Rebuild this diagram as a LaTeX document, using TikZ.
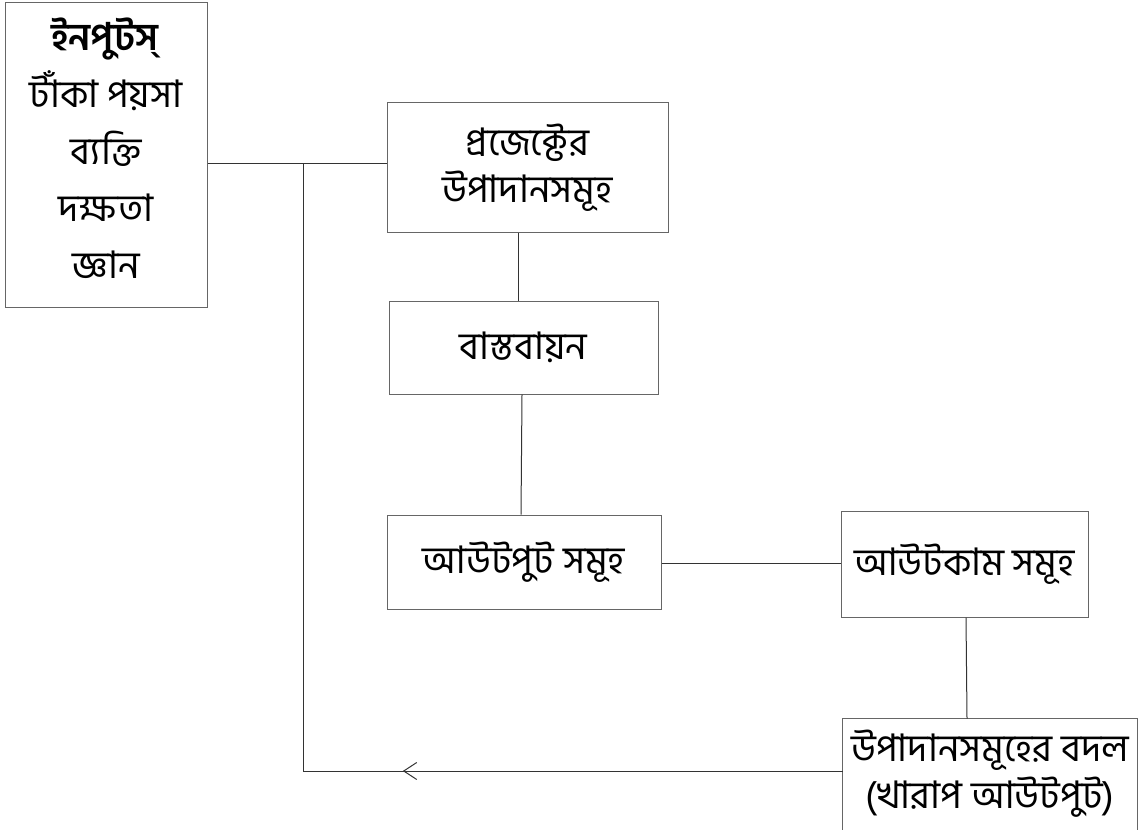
\documentclass[tikz,border=0pt]{standalone}
\usepackage{fontspec}
\newfontfamily\bn[Script=Bengali]{Hind Siliguri}
\usetikzlibrary{decorations.markings,arrows.meta}
\begin{document}
\begin{tikzpicture}[x=1pt,y=-1pt,
  box/.style={draw=black!60,line width=1pt,inner sep=0pt,align=center,
    font=\bn\fontsize{38}{47}\selectfont},
  conn/.style={draw=black!80,line width=1pt}]
\useasboundingbox (0,0) rectangle (1139,829);
% boxes
\node[box,minimum width=202,minimum height=304] (inp) at (106,155) {};
\node[align=center,inner sep=0pt,font=\bn\fontsize{38}{47}\selectfont] (inptxt) at (106,148)
  {\textbf{ইনপুটস্}\\[10pt]টাঁকা পয়সা\\[10pt]ব্যক্তি\\[10pt]দক্ষতা\\[10pt]জ্ঞান};
\node[box,minimum width=281,minimum height=129] (proj) at (527.5,167.5)
  {প্রজেক্টের\\উপাদানসমূহ};
\node[box,minimum width=269,minimum height=93] (impl) at (523.5,347.5)
  {বাস্তবায়ন};
\node[box,minimum width=274,minimum height=94] (out) at (524,562)
  {আউটপুট সমূহ};
\node[box,minimum width=247,minimum height=106] (oc) at (964.5,564)
  {আউটকাম সমূহ};
\node[box,draw=none,minimum width=294,minimum height=110] (fb) at (990,774)
  {উপাদানসমূহের বদল\\(খারাপ আউটপুট)};
\draw[draw=black!60,line width=1pt] (fb.south west) -- (fb.north west) -- (fb.north east) -- (fb.south east);
% connectors
\coordinate (j) at (303,164);
\draw[conn] (inp.east |- j) -- (proj.west |- j);
\draw[conn] ([xshift=-9.5pt]proj.south) -- ([xshift=-5.5pt]impl.north);
\draw[conn] ([xshift=-1.5pt]impl.south) -- ([xshift=-3pt]out.north);
\draw[conn] (out.east |- 0,563) -- (oc.west |- 0,563);
\draw[conn] ([xshift=1.5pt]oc.south) -- ([xshift=-23pt]fb.north);
\coordinate (fbw) at ([yshift=3pt]fb.west);
\draw[conn,postaction={decorate},decoration={markings,
   mark=at position 0.815 with {\arrow{Straight Barb[length=13pt,width=17pt,line width=1pt]}}}]
  (fbw) -- (j |- fbw);
\draw[conn] (j |- fbw) -- (j);
\end{tikzpicture}
\end{document}
